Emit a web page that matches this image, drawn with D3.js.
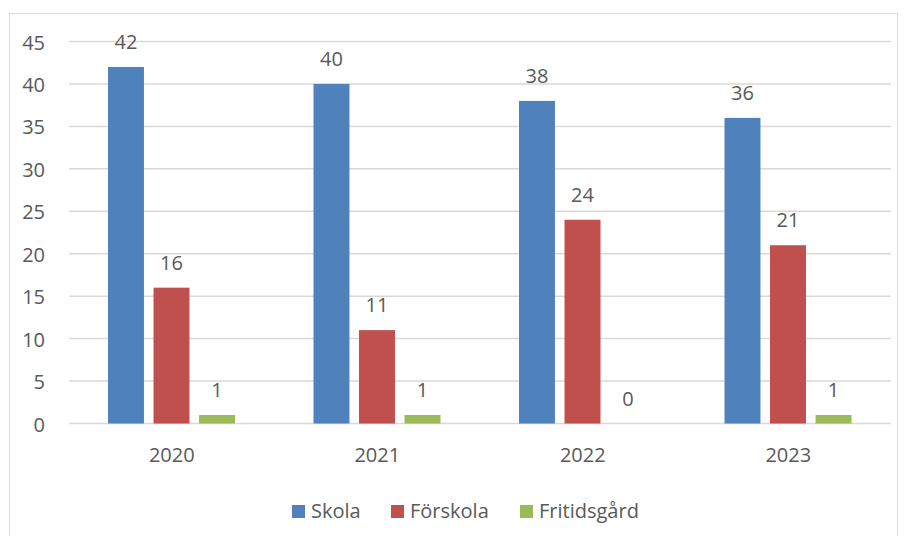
<!DOCTYPE html>
<html>
<head>
<meta charset="utf-8">
<script src="https://cdn.jsdelivr.net/npm/d3@7"></script>
<style>
  body { margin: 0; background: #fff; }
  text { font-family: "Open Sans", sans-serif; fill: #595959; }
</style>
</head>
<body>
<div id="chart"></div>
<script>
var years = ["2020", "2021", "2022", "2023"]
var seriesNames = ["Skola", "Förskola", "Fritidsgård"]
var skola = [42, 40, 38, 36]
var forskola = [16, 11, 24, 21]
var fritidsgard = [1, 1, 0, 1]
var yTicks = [0, 5, 10, 15, 20, 25, 30, 35, 40, 45]
var colors = ["#4f81bd", "#c0504d", "#9bbb59"]

var seriesValues = [skola, forskola, fritidsgard]
var width = 907, height = 536
// plot area (window.top is read-only, so use other names)
var plotLeft = 69, plotRight = 891, plotTop = 41.5, plotBottom = 423.5

var svg = d3.select("#chart").append("svg")
  .attr("width", width)
  .attr("height", height)

// chart frame
svg.append("rect")
  .attr("x", 9.5).attr("y", 13.5)
  .attr("width", 888).attr("height", 540)
  .attr("fill", "none")
  .attr("stroke", "#d9d9d9")

var x = d3.scaleBand().domain(years).range([plotLeft, plotRight])
var inner = d3.scaleBand().domain(seriesNames)
  .range([39, 39 + 127]).paddingInner(0.21)
var y = d3.scaleLinear().domain([0, 45]).range([plotBottom, plotTop])

// gridlines
svg.append("g").selectAll("line")
  .data(yTicks)
  .enter().append("line")
  .attr("x1", plotLeft).attr("x2", plotRight)
  .attr("y1", d => y(d)).attr("y2", d => y(d))
  .attr("stroke", "#d9d9d9")
  .attr("stroke-width", 1.5)

// y labels
svg.append("g").selectAll("text")
  .data(yTicks)
  .enter().append("text")
  .attr("x", 45)
  .attr("y", d => y(d) + 8)
  .attr("text-anchor", "end")
  .style("font-size", "20px")
  .text(d => d)

// x labels
svg.append("g").selectAll("text")
  .data(years)
  .enter().append("text")
  .attr("x", d => x(d) + x.bandwidth() / 2)
  .attr("y", 462)
  .attr("text-anchor", "middle")
  .style("font-size", "20px")
  .text(d => d)

// bars
var barData = []
years.forEach((yr, i) => {
  seriesNames.forEach((s, j) => {
    barData.push({ year: yr, series: s, value: seriesValues[j][i], color: colors[j] })
  })
})

svg.append("g").selectAll("rect")
  .data(barData)
  .enter().append("rect")
  .attr("x", d => x(d.year) + inner(d.series))
  .attr("y", d => y(d.value))
  .attr("width", inner.bandwidth())
  .attr("height", d => plotBottom - y(d.value))
  .attr("fill", d => d.color)

svg.append("g").selectAll("text")
  .data(barData)
  .enter().append("text")
  .attr("x", d => x(d.year) + inner(d.series) + inner.bandwidth() / 2)
  .attr("y", d => y(d.value) - 18)
  .attr("text-anchor", "middle")
  .style("font-size", "20px")
  .text(d => d.value)

// legend
var legendX = [292, 391, 520]
var legend = svg.append("g").selectAll("g")
  .data(seriesNames)
  .enter().append("g")
  .attr("transform", (d, i) => "translate(" + legendX[i] + ",505)")
legend.append("rect")
  .attr("width", 13).attr("height", 13)
  .attr("fill", (d, i) => colors[i])
legend.append("text")
  .attr("x", 19).attr("y", 13)
  .style("font-size", "20px")
  .text(d => d)
</script>
</body>
</html>
